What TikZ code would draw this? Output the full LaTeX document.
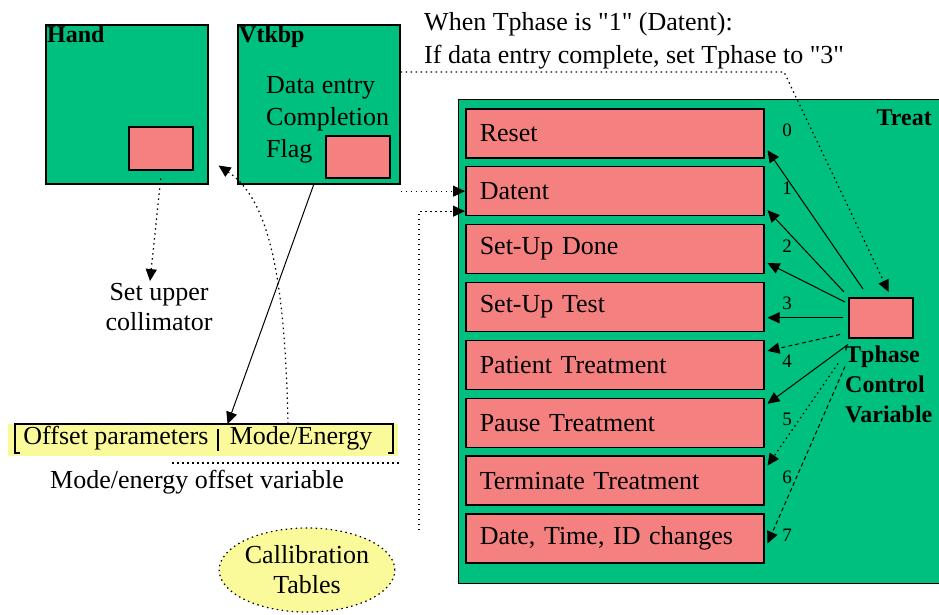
\documentclass[tikz,border=0pt]{standalone}
\usepackage{fontspec}
\setmainfont{Liberation Serif}
\usetikzlibrary{arrows.meta,shapes.geometric}
\definecolor{treatgreen}{RGB}{0,192,128}
\definecolor{flagpink}{RGB}{245,128,128}
\definecolor{tableyellow}{RGB}{250,250,155}
\newcommand\plainquote{\XeTeXglyph\XeTeXcharglyph"22\relax}
\tikzset{
	module/.style={draw=black, line width=1.5pt, fill=treatgreen, anchor=north west, inner sep=0pt},
	flag/.style={draw=black, line width=1.5pt, fill=flagpink, anchor=north west, inner sep=0pt},
	phase/.style={draw=black, line width=1.5pt, fill=flagpink, anchor=north west, minimum width=298pt, minimum height=49pt, text width=270pt, inner xsep=14pt, align=left, font=\fontsize{26}{30}\selectfont},
	modname/.style={anchor=north west, inner sep=2pt, font=\bfseries\fontsize{24}{30}\selectfont},
	txt/.style={inner sep=2pt, font=\fontsize{26}{30}\selectfont},
	num/.style={inner sep=0pt, font=\fontsize{19}{22}\selectfont},
	flow/.style={line width=1pt, -{Triangle[length=12pt,width=11pt]}},
	dotline/.style={line width=1.2pt, dash pattern=on 1.5pt off 3.5pt},
	dotflow/.style={flow, dotline},
	dashflow/.style={flow, dash pattern=on 4pt off 3pt}
}
\begin{document}
\begin{tikzpicture}[x=1pt,y=-1pt]
	\useasboundingbox (0,0) rectangle (939,614);
	%hand and vtkbp
	\node[module, minimum width=162pt, minimum height=159pt] (hand) at (45,24) {};
	\node[modname] (handlbl) at (hand.north west) {Hand};
	\node[flag, minimum width=64pt, minimum height=43pt] (handflag) at (128,126) {};
	\node[module, minimum width=162pt, minimum height=159pt] (vtkbp) at (237,24) {};
	\node[modname] (vtklbl) at (vtkbp.north west) {Vtkbp};
	\node[txt, anchor=north west, align=left, font=\fontsize{26}{32}\selectfont] (vtktxt) at (264,74) {Data entry\\Completion\\Flag};
	\node[flag, minimum width=64pt, minimum height=42pt] (vtkflag) at (325,135) {};
	%note
	\node[txt, anchor=north west, align=left, font=\fontsize{26}{33}\selectfont] (note) at (422,10) {When Tphase is \plainquote1\plainquote\ (Datent):\\If data entry complete, set Tphase to \plainquote3\plainquote};
	%treat
	\node[module, line width=1.2pt, minimum width=500pt, minimum height=484pt] (treat) at (458,99) {};
	\node[modname, anchor=north east] (treatlbl) at (934,108) {Treat};
	\foreach \lbl [count=\i from 0] in {Reset, Datent, Set-Up Done, Set-Up Test, Patient Treatment, Pause Treatment, Terminate Treatment, {Date, Time, ID changes}}
		\node[phase] (r\i) at (465,{108+57.9*\i}) {\lbl};
	\foreach \i in {0,...,7}
		\node[num] (n\i) at (787,{130+57.9*\i}) {\i};
	\node[flag, minimum width=64pt, minimum height=40pt] (tphase) at (848,297) {};
	\node[modname, align=left] (tphaselbl) at (843,344) {Tphase\\Control\\Variable};
	%phase arrows
	\draw[flow] ([xshift=15pt,yshift=8pt]tphase.north west) -- ([xshift=3pt,yshift=-17pt]r0.east);
	\draw[flow] ([xshift=-4pt,yshift=5pt]tphase.north west) -- ([xshift=3pt,yshift=-19pt]r1.east);
	\draw[flow] ([xshift=-3pt,yshift=-5pt]tphase.north west) -- ([xshift=3pt,yshift=-14pt]r2.east);
	\draw[flow] ([xshift=-5pt]tphase.west) -- ([xshift=3pt]tphase.west -| r3.east);
	\draw[dashflow] ([xshift=-8pt,yshift=4pt]tphase.south west) -- ([xshift=3pt,yshift=14pt]r4.east);
	\draw[flow] ([yshift=-6pt]tphase.south west) -- ([xshift=3pt,yshift=19pt]r5.east);
	\draw[dotflow] ([xshift=-10pt,yshift=-25pt]tphase.south west) -- ([xshift=3pt,yshift=15pt]r6.east);
	\draw[dashflow] ([xshift=-3pt,yshift=-28pt]tphase.south west) -- ([xshift=3pt,yshift=-5pt]r7.east);
	%offset variable
	\node[fill=tableyellow, anchor=north west, minimum width=390pt, minimum height=32pt, inner sep=0pt] (offbar) at (8,424) {};
	\draw[line width=1.2pt] (20,453) -- (15,453) -- (15,424) -- (393,424) -- (393,453) -- (388,453);
	\node[txt] (offpar) at (116,438) {Offset parameters};
	\draw[line width=1.2pt] (218,429) -- (218,451);
	\node[txt] (modeen) at (301,438) {Mode/Energy};
	\draw[dotline] (172,463) -- (400,463);
	\node[txt] (offvar) at (197,482) {Mode/energy offset variable};
	%set upper collimator
	\node[txt, align=center] (setcol) at (159,307) {Set upper\\collimator};
	%calibration
	\node[ellipse, draw, dotline, fill=tableyellow, minimum width=149pt, minimum height=84pt, align=center, inner sep=0pt, font=\fontsize{26}{30}\selectfont] (calib) at (307,570) {Callibration\\Tables};
	\coordinate (calfeed) at (419,530);
	\coordinate (notebend) at (784,72);
	%connectors
	\draw[dotflow] ([yshift=-8pt]handflag.south) -- ([xshift=-9pt]setcol.north);
	\draw[flow] ([xshift=-5pt]vtkbp.south) -- (offbar.north -| modeen.west);
	\draw[dotflow] ([xshift=-13pt]modeen.north) .. controls (285,280) and (270,200) .. ([xshift=10pt,yshift=19pt]hand.south east);
	\draw[dotflow] (vtkbp.east |- notebend) -- (notebend) -- ([xshift=8pt,yshift=5pt]tphase.north);
	\draw[dotflow] (vtkbp.south east |- r1.west) -- (r1.west);
	\draw[dotflow] (calfeed) |- ([yshift=-20pt]r1.west);
\end{tikzpicture}
\end{document}
